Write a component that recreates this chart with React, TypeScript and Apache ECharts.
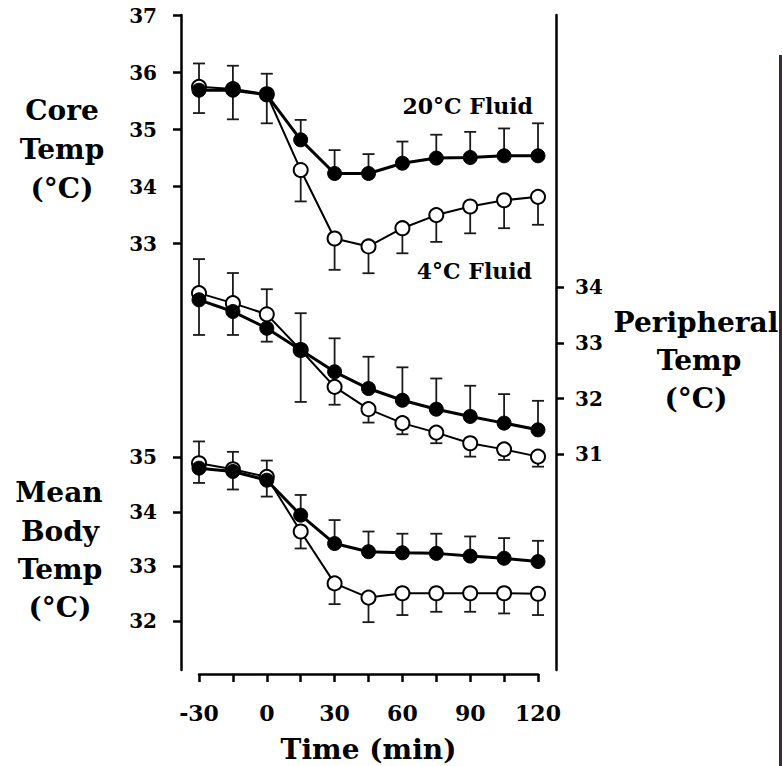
import React, { useEffect, useRef } from "react";
import * as echarts from "echarts";

// Time points (min)
const times = [-30, -15, 0, 15, 30, 45, 60, 75, 90, 105, 120];
const xTickLabels = [-30, 0, 30, 60, 90, 120];

// Core temperature (°C)
const core20 = [35.69, 35.69, 35.61, 34.82, 34.23, 34.23, 34.41, 34.5, 34.51, 34.54, 34.54];
const core20Err = [0.47, 0.43, 0.37, 0.35, 0.41, 0.34, 0.38, 0.41, 0.45, 0.48, 0.57];
const core4 = [35.75, 35.71, 35.62, 34.29, 33.09, 32.95, 33.27, 33.5, 33.65, 33.76, 33.82];
const core4Err = [0.46, 0.53, 0.51, 0.55, 0.55, 0.47, 0.44, 0.47, 0.47, 0.49, 0.49];

// Peripheral temperature (°C)
const periph20 = [33.77, 33.56, 33.26, 32.87, 32.48, 32.18, 31.97, 31.81, 31.68, 31.56, 31.44];
const periph20Err = [0.73, 0.69, 0.7, 0.66, 0.6, 0.57, 0.59, 0.55, 0.55, 0.52, 0.52];
const periph4 = [33.89, 33.71, 33.51, 32.87, 32.21, 31.81, 31.56, 31.39, 31.2, 31.09, 30.96];
const periph4Err = [0.75, 0.57, 0.49, 0.93, 0.32, 0.24, 0.2, 0.19, 0.24, 0.19, 0.18];

// Mean body temperature (°C)
const mean20 = [34.8, 34.74, 34.58, 33.94, 33.42, 33.27, 33.25, 33.24, 33.19, 33.15, 33.09];
const mean20Err = [0.49, 0.36, 0.36, 0.37, 0.43, 0.37, 0.35, 0.36, 0.36, 0.37, 0.38];
const mean4 = [34.89, 34.78, 34.64, 33.64, 32.69, 32.43, 32.51, 32.51, 32.51, 32.51, 32.5];
const mean4Err = [0.36, 0.37, 0.36, 0.31, 0.38, 0.45, 0.4, 0.34, 0.34, 0.37, 0.39];

// Axis tick values
const coreTicks = [33, 34, 35, 36, 37];
const meanTicks = [32, 33, 34, 35];
const periphTicks = [31, 32, 33, 34];

const FONT = "'DejaVu Serif', serif";

export default function App() {
  const ref = useRef<HTMLDivElement>(null);

  useEffect(() => {
    const chart = echarts.init(ref.current!, null, { renderer: "svg" });

    const pts = (vals: number[]) => times.map((t, i) => [t, vals[i]]);

    const errSeries = (vals: number[], errs: number[], dir: number, yAxisIndex: number) => ({
      type: "custom",
      xAxisIndex: 0,
      yAxisIndex,
      clip: false,
      z: 1,
      silent: true,
      data: times.map((t, i) => [t, vals[i], vals[i] + dir * errs[i]]),
      encode: { x: 0, y: [1, 2] },
      renderItem: (params: any, api: any) => {
        const p0 = api.coord([api.value(0), api.value(1)]);
        const p1 = api.coord([api.value(0), api.value(2)]);
        const hw = 6;
        const st = { stroke: "#1a1a1a", lineWidth: 1.8 };
        return {
          type: "group",
          children: [
            { type: "line", shape: { x1: p0[0], y1: p0[1], x2: p1[0], y2: p1[1] }, style: st },
            { type: "line", shape: { x1: p1[0] - hw, y1: p1[1], x2: p1[0] + hw, y2: p1[1] }, style: st },
          ],
        };
      },
    });

    const filledLine = (name: string, vals: number[], yAxisIndex: number) => ({
      name,
      type: "line",
      xAxisIndex: 0,
      yAxisIndex,
      data: pts(vals),
      clip: false,
      z: 4,
      symbol: "circle",
      symbolSize: 14,
      itemStyle: { color: "#000", borderColor: "#000", borderWidth: 1 },
      lineStyle: { color: "#000", width: 3 },
    });

    const openLine = (name: string, vals: number[], yAxisIndex: number) => ({
      name,
      type: "line",
      xAxisIndex: 0,
      yAxisIndex,
      data: pts(vals),
      clip: false,
      z: 3,
      symbol: "circle",
      symbolSize: 14,
      itemStyle: { color: "#fff", borderColor: "#000", borderWidth: 2 },
      lineStyle: { color: "#000", width: 2 },
    });

    const axisStyle = { color: "#000", width: 2.5 };
    const labelStyle = {
      color: "#000",
      fontFamily: FONT,
      fontWeight: "bold" as const,
      fontSize: 20,
    };

    const textEl = (text: string, x: number, y: number, size: number, align = "center") => ({
      type: "text",
      x,
      y,
      silent: true,
      style: {
        text,
        fill: "#000",
        font: `bold ${size}px ${FONT}`,
        textAlign: align,
        textVerticalAlign: "middle",
      },
    });

    chart.setOption({
      animation: false,
      backgroundColor: "#fff",
      grid: { left: 199, right: 244, top: 15, bottom: 96, outerBoundsMode: "none", containLabel: false },
      xAxis: {
        type: "value",
        min: -30,
        max: 120,
        interval: 15,
        position: "bottom",
        offset: 4,
        axisLine: { onZero: false, lineStyle: axisStyle },
        axisTick: { length: 8, lineStyle: axisStyle },
        splitLine: { show: false },
        axisLabel: {
          ...labelStyle,
          fontSize: 22,
          margin: 28,
          formatter: (v: number) => (xTickLabels.indexOf(v) >= 0 ? String(v) : ""),
        },
        name: "Time (min)",
        nameLocation: "middle",
        nameGap: 61,
        nameTextStyle: { color: "#000", fontFamily: FONT, fontWeight: "bold", fontSize: 28 },
      },
      yAxis: [
        {
          type: "value",
          position: "left",
          offset: 18,
          min: 25.52,
          max: 37.01,
          axisLine: { show: true, onZero: false, lineStyle: axisStyle },
          axisTick: { show: true, length: 8, lineStyle: axisStyle, customValues: coreTicks },
          axisLabel: { ...labelStyle, margin: 24, customValues: coreTicks },
          splitLine: { show: false },
        },
        {
          type: "value",
          position: "left",
          offset: 18,
          min: 31.104,
          max: 43.1,
          axisLine: { show: false, onZero: false },
          axisTick: { show: true, length: 8, lineStyle: axisStyle, customValues: meanTicks },
          axisLabel: { ...labelStyle, margin: 24, customValues: meanTicks },
          splitLine: { show: false },
        },
        {
          type: "value",
          position: "right",
          offset: 18,
          min: 27.136,
          max: 38.874,
          axisLine: { show: true, onZero: false, lineStyle: axisStyle },
          axisTick: { show: true, length: 8, lineStyle: axisStyle, customValues: periphTicks },
          axisLabel: { ...labelStyle, margin: 19, customValues: periphTicks },
          splitLine: { show: false },
        },
      ],
      series: [
        errSeries(core20, core20Err, 1, 0),
        errSeries(core4, core4Err, -1, 0),
        errSeries(periph20, periph20Err, 1, 2),
        errSeries(periph4, periph4Err, -1, 2),
        errSeries(mean20, mean20Err, 1, 1),
        errSeries(mean4, mean4Err, -1, 1),
        openLine("Core 4°C Fluid", core4, 0),
        filledLine("Core 20°C Fluid", core20, 0),
        openLine("Peripheral 4°C Fluid", periph4, 2),
        filledLine("Peripheral 20°C Fluid", periph20, 2),
        openLine("Mean Body 4°C Fluid", mean4, 1),
        filledLine("Mean Body 20°C Fluid", mean20, 1),
      ],
      graphic: [
        textEl("Core", 62, 110, 28),
        textEl("Temp", 62, 149, 28),
        textEl("(°C)", 62, 188, 28),
        textEl("Mean", 59, 492, 28),
        textEl("Body", 60, 531, 28),
        textEl("Temp", 60, 569, 28),
        textEl("(°C)", 60, 607, 28),
        textEl("Peripheral", 696, 322, 28),
        textEl("Temp", 699, 360, 28),
        textEl("(°C)", 696, 398, 28),
        textEl("20°C Fluid", 533, 106, 22, "right"),
        textEl("4°C Fluid", 532, 271, 22, "right"),
        {
          type: "rect",
          silent: true,
          shape: { x: 779, y: 55, width: 3, height: 711 },
          style: { fill: "#3a2a35" },
        },
      ],
    });

    return () => chart.dispose();
  }, []);

  return (
    <div
      ref={ref}
      style={{ position: "fixed", left: 0, top: 0, width: 782, height: 766, background: "#fff" }}
    />
  );
}
